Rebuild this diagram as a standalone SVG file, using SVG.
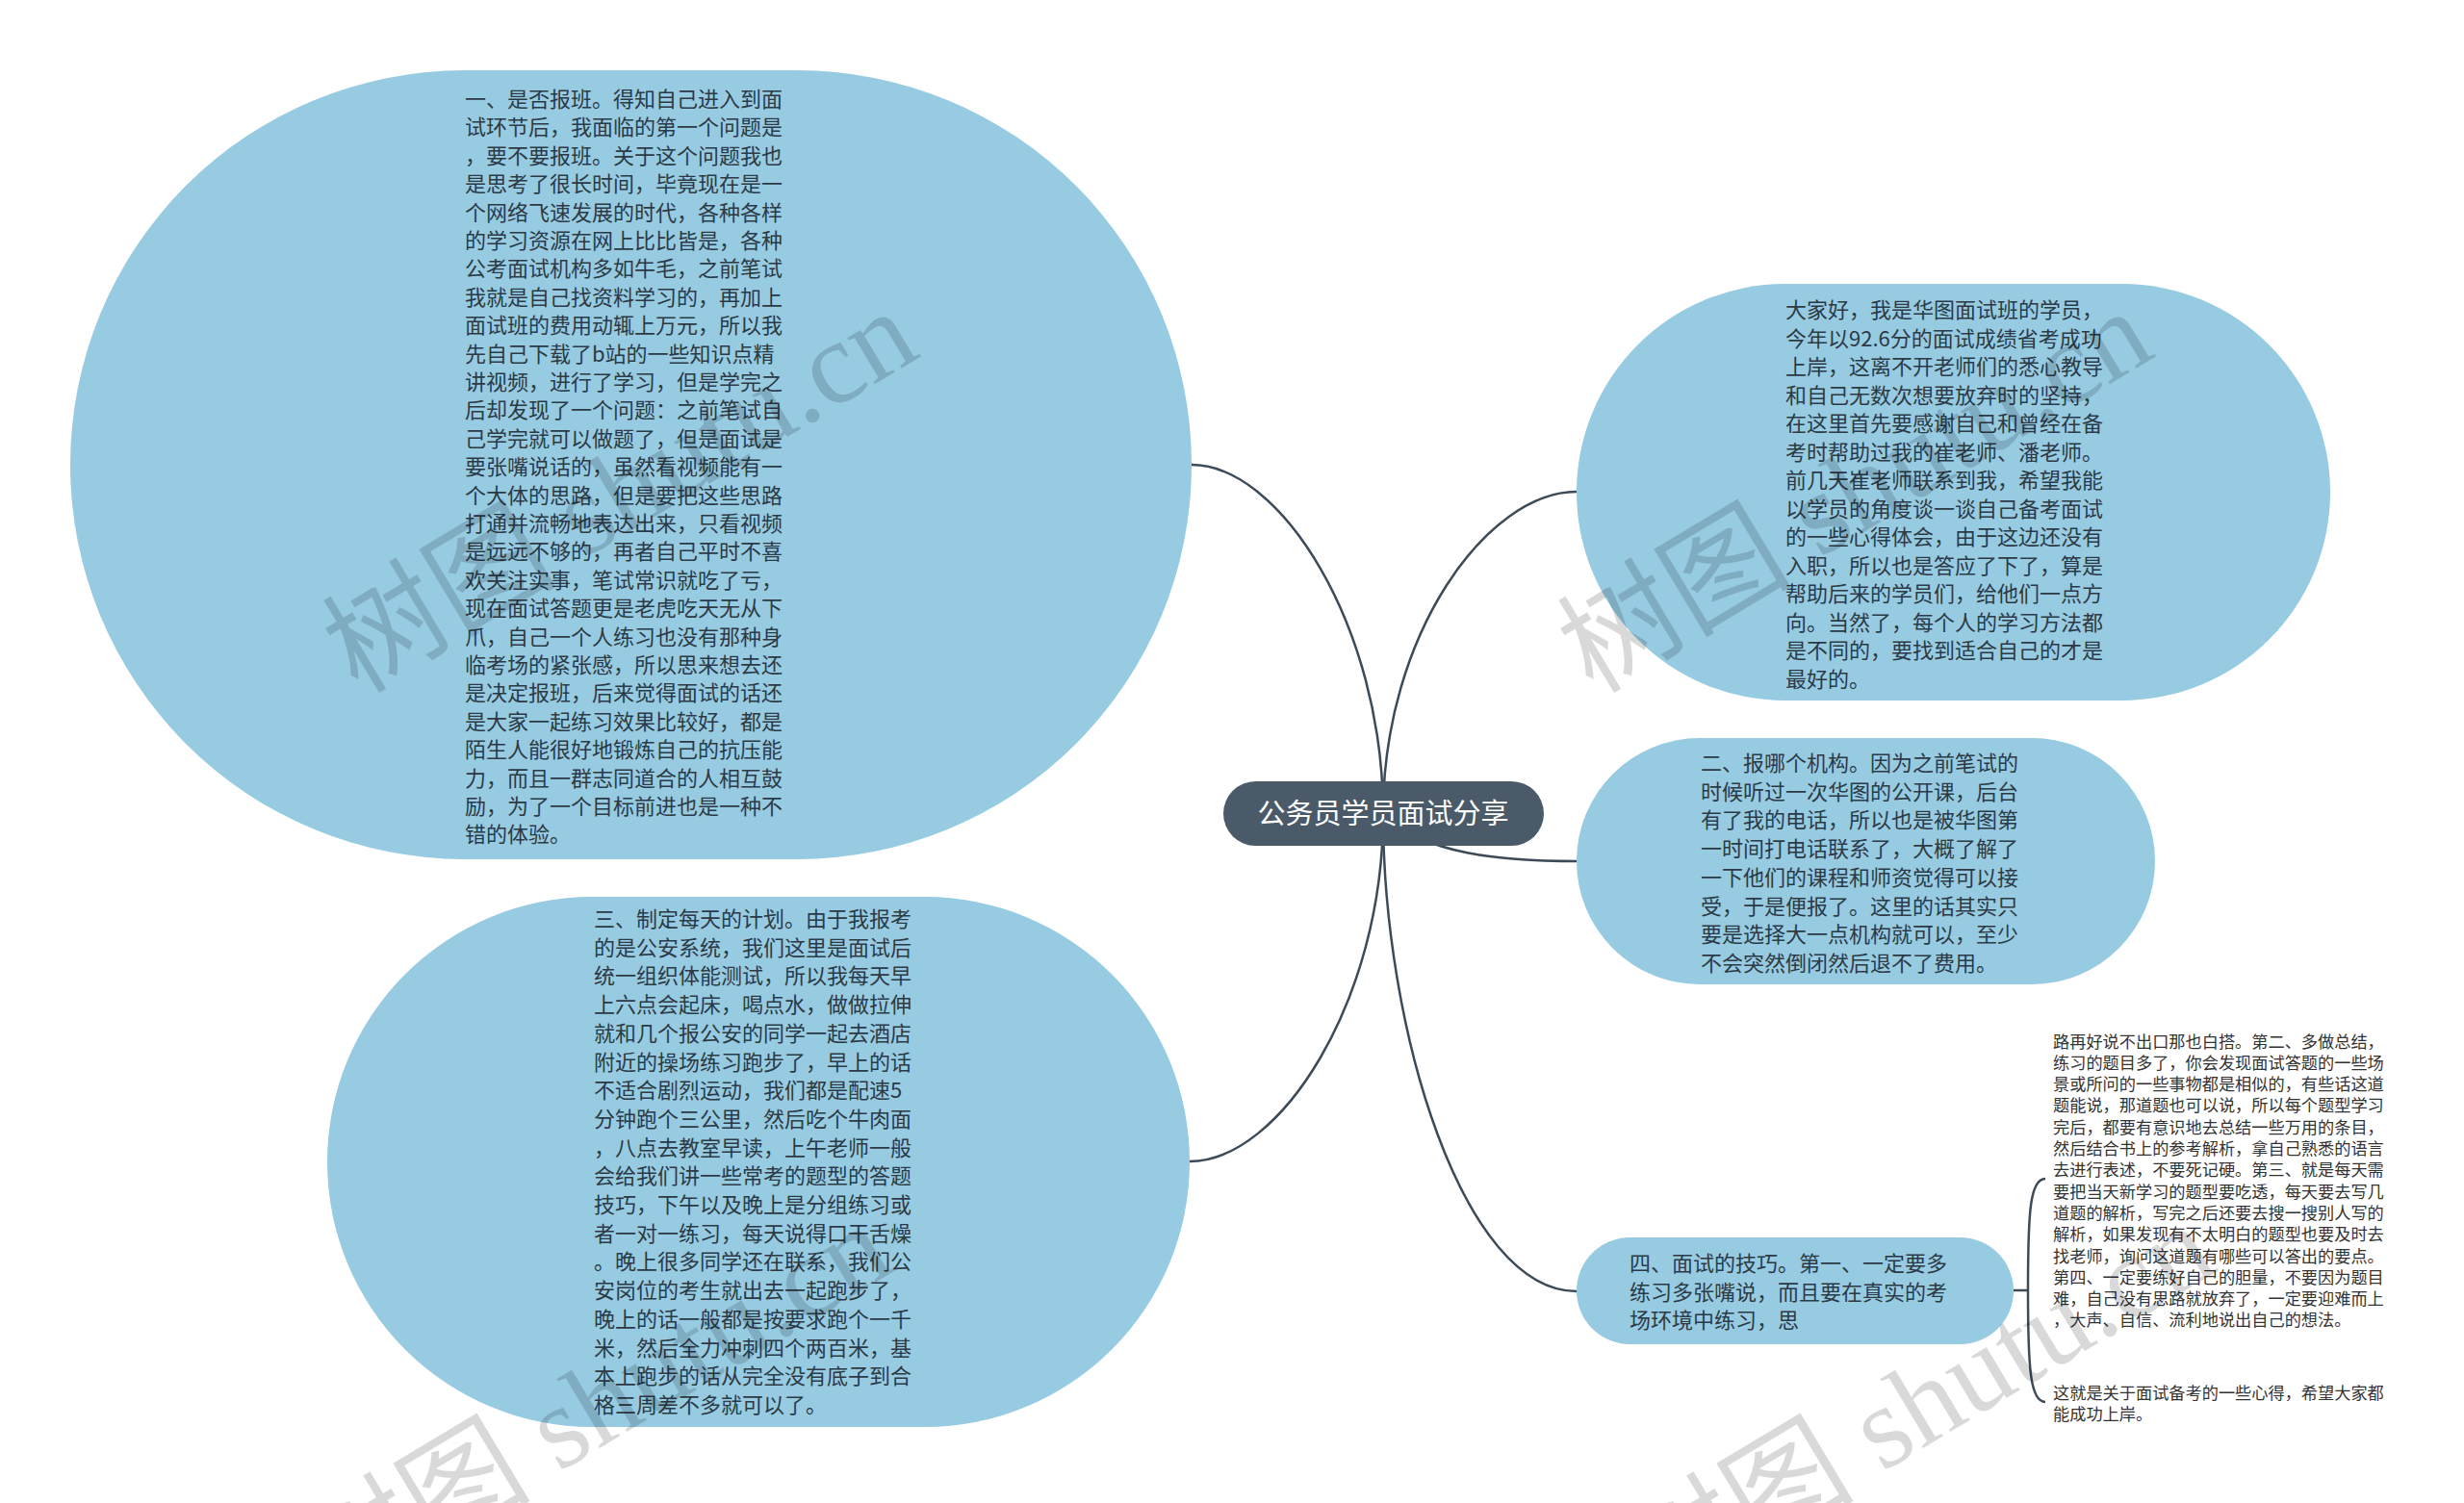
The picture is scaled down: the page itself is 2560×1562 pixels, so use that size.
<svg xmlns="http://www.w3.org/2000/svg" width="2560" height="1562" viewBox="0 0 2560 1562">
<style>
.node{fill:#96cbe2;}
.t{font-family:"Noto Sans CJK SC","Noto Sans",sans-serif;font-size:22px;fill:#2c3a46;}
.leaf{font-family:"Noto Sans CJK SC","Noto Sans",sans-serif;font-size:17.2px;fill:#333333;}
.root{fill:#4a5a69;}
.rt{font-family:"Noto Sans CJK SC","Noto Sans",sans-serif;font-size:29px;fill:#ffffff;}
.conn{fill:none;stroke:#3d4b58;stroke-width:2.5;}
.wm{font-family:"Liberation Serif","Noto Sans CJK SC",serif;font-size:122px;fill:#000;fill-opacity:0.15;}
</style>
<rect width="2560" height="1562" fill="#ffffff"/>
<g id="connectors">
<path class="conn" d="M1437 846 C1437 650 1330 483 1238 483"/>
<path class="conn" d="M1437 846 C1437 1040 1330 1207 1236 1207"/>
<path class="conn" d="M1437 846 C1437 660 1545 511 1638 511"/>
<path class="conn" d="M1437 846 C1480 888 1560 895 1638 895"/>
<path class="conn" d="M1437 846 C1437 1070 1520 1342 1638 1342"/>
<path class="conn" d="M2092 1341 L2107 1341"/>
<path class="conn" d="M2107 1341 C2107 1260 2109 1225 2125 1225"/>
<path class="conn" d="M2107 1341 C2107 1420 2109 1457 2125 1457"/>
</g>
<g id="node-1">
<rect class="node" x="73" y="73" width="1165" height="820" rx="410" ry="410"/>
<text class="t" x="483" y="111"><tspan x="483" dy="0">一、是否报班。得知自己进入到面</tspan><tspan x="483" dy="29.4">试环节后，我面临的第一个问题是</tspan><tspan x="483" dy="29.4">，要不要报班。关于这个问题我也</tspan><tspan x="483" dy="29.4">是思考了很长时间，毕竟现在是一</tspan><tspan x="483" dy="29.4">个网络飞速发展的时代，各种各样</tspan><tspan x="483" dy="29.4">的学习资源在网上比比皆是，各种</tspan><tspan x="483" dy="29.4">公考面试机构多如牛毛，之前笔试</tspan><tspan x="483" dy="29.4">我就是自己找资料学习的，再加上</tspan><tspan x="483" dy="29.4">面试班的费用动辄上万元，所以我</tspan><tspan x="483" dy="29.4">先自己下载了b站的一些知识点精</tspan><tspan x="483" dy="29.4">讲视频，进行了学习，但是学完之</tspan><tspan x="483" dy="29.4">后却发现了一个问题：之前笔试自</tspan><tspan x="483" dy="29.4">己学完就可以做题了，但是面试是</tspan><tspan x="483" dy="29.4">要张嘴说话的，虽然看视频能有一</tspan><tspan x="483" dy="29.4">个大体的思路，但是要把这些思路</tspan><tspan x="483" dy="29.4">打通并流畅地表达出来，只看视频</tspan><tspan x="483" dy="29.4">是远远不够的，再者自己平时不喜</tspan><tspan x="483" dy="29.4">欢关注实事，笔试常识就吃了亏，</tspan><tspan x="483" dy="29.4">现在面试答题更是老虎吃天无从下</tspan><tspan x="483" dy="29.4">爪，自己一个人练习也没有那种身</tspan><tspan x="483" dy="29.4">临考场的紧张感，所以思来想去还</tspan><tspan x="483" dy="29.4">是决定报班，后来觉得面试的话还</tspan><tspan x="483" dy="29.4">是大家一起练习效果比较好，都是</tspan><tspan x="483" dy="29.4">陌生人能很好地锻炼自己的抗压能</tspan><tspan x="483" dy="29.4">力，而且一群志同道合的人相互鼓</tspan><tspan x="483" dy="29.4">励，为了一个目标前进也是一种不</tspan><tspan x="483" dy="29.4">错的体验。</tspan></text>
</g>
<g id="node-2">
<rect class="node" x="1638" y="295" width="783" height="433" rx="216.5" ry="216.5"/>
<text class="t" x="1855" y="330"><tspan x="1855" dy="0">大家好，我是华图面试班的学员，</tspan><tspan x="1855" dy="29.5">今年以92.6分的面试成绩省考成功</tspan><tspan x="1855" dy="29.5">上岸，这离不开老师们的悉心教导</tspan><tspan x="1855" dy="29.5">和自己无数次想要放弃时的坚持，</tspan><tspan x="1855" dy="29.5">在这里首先要感谢自己和曾经在备</tspan><tspan x="1855" dy="29.5">考时帮助过我的崔老师、潘老师。</tspan><tspan x="1855" dy="29.5">前几天崔老师联系到我，希望我能</tspan><tspan x="1855" dy="29.5">以学员的角度谈一谈自己备考面试</tspan><tspan x="1855" dy="29.5">的一些心得体会，由于这边还没有</tspan><tspan x="1855" dy="29.5">入职，所以也是答应了下了，算是</tspan><tspan x="1855" dy="29.5">帮助后来的学员们，给他们一点方</tspan><tspan x="1855" dy="29.5">向。当然了，每个人的学习方法都</tspan><tspan x="1855" dy="29.5">是不同的，要找到适合自己的才是</tspan><tspan x="1855" dy="29.5">最好的。</tspan></text>
</g>
<g id="node-3">
<rect class="node" x="1638" y="767" width="601" height="256" rx="128" ry="128"/>
<text class="t" x="1767" y="801"><tspan x="1767" dy="0">二、报哪个机构。因为之前笔试的</tspan><tspan x="1767" dy="29.7">时候听过一次华图的公开课，后台</tspan><tspan x="1767" dy="29.7">有了我的电话，所以也是被华图第</tspan><tspan x="1767" dy="29.7">一时间打电话联系了，大概了解了</tspan><tspan x="1767" dy="29.7">一下他们的课程和师资觉得可以接</tspan><tspan x="1767" dy="29.7">受，于是便报了。这里的话其实只</tspan><tspan x="1767" dy="29.7">要是选择大一点机构就可以，至少</tspan><tspan x="1767" dy="29.7">不会突然倒闭然后退不了费用。</tspan></text>
</g>
<g id="node-4">
<rect class="node" x="340" y="932" width="896" height="551" rx="275.5" ry="275.5"/>
<text class="t" x="617" y="963"><tspan x="617" dy="0">三、制定每天的计划。由于我报考</tspan><tspan x="617" dy="29.7">的是公安系统，我们这里是面试后</tspan><tspan x="617" dy="29.7">统一组织体能测试，所以我每天早</tspan><tspan x="617" dy="29.7">上六点会起床，喝点水，做做拉伸</tspan><tspan x="617" dy="29.7">就和几个报公安的同学一起去酒店</tspan><tspan x="617" dy="29.7">附近的操场练习跑步了，早上的话</tspan><tspan x="617" dy="29.7">不适合剧烈运动，我们都是配速5</tspan><tspan x="617" dy="29.7">分钟跑个三公里，然后吃个牛肉面</tspan><tspan x="617" dy="29.7">，八点去教室早读，上午老师一般</tspan><tspan x="617" dy="29.7">会给我们讲一些常考的题型的答题</tspan><tspan x="617" dy="29.7">技巧，下午以及晚上是分组练习或</tspan><tspan x="617" dy="29.7">者一对一练习，每天说得口干舌燥</tspan><tspan x="617" dy="29.7">。晚上很多同学还在联系，我们公</tspan><tspan x="617" dy="29.7">安岗位的考生就出去一起跑步了，</tspan><tspan x="617" dy="29.7">晚上的话一般都是按要求跑个一千</tspan><tspan x="617" dy="29.7">米，然后全力冲刺四个两百米，基</tspan><tspan x="617" dy="29.7">本上跑步的话从完全没有底子到合</tspan><tspan x="617" dy="29.7">格三周差不多就可以了。</tspan></text>
</g>
<g id="node-5">
<rect class="node" x="1638" y="1286" width="454" height="111" rx="55.5" ry="55.5"/>
<text class="t" x="1693" y="1321"><tspan x="1693" dy="0">四、面试的技巧。第一、一定要多</tspan><tspan x="1693" dy="29.5">练习多张嘴说，而且要在真实的考</tspan><tspan x="1693" dy="29.5">场环境中练习，思</tspan></text>
</g>
<g id="leaf-1">
<text class="leaf" x="2133" y="1088.5"><tspan x="2133" dy="0">路再好说不出口那也白搭。第二、多做总结，</tspan><tspan x="2133" dy="22.3">练习的题目多了，你会发现面试答题的一些场</tspan><tspan x="2133" dy="22.3">景或所问的一些事物都是相似的，有些话这道</tspan><tspan x="2133" dy="22.3">题能说，那道题也可以说，所以每个题型学习</tspan><tspan x="2133" dy="22.3">完后，都要有意识地去总结一些万用的条目，</tspan><tspan x="2133" dy="22.3">然后结合书上的参考解析，拿自己熟悉的语言</tspan><tspan x="2133" dy="22.3">去进行表述，不要死记硬。第三、就是每天需</tspan><tspan x="2133" dy="22.3">要把当天新学习的题型要吃透，每天要去写几</tspan><tspan x="2133" dy="22.3">道题的解析，写完之后还要去搜一搜别人写的</tspan><tspan x="2133" dy="22.3">解析，如果发现有不太明白的题型也要及时去</tspan><tspan x="2133" dy="22.3">找老师，询问这道题有哪些可以答出的要点。</tspan><tspan x="2133" dy="22.3">第四、一定要练好自己的胆量，不要因为题目</tspan><tspan x="2133" dy="22.3">难，自己没有思路就放弃了，一定要迎难而上</tspan><tspan x="2133" dy="22.3">，大声、自信、流利地说出自己的想法。</tspan></text>
</g>
<g id="leaf-2">
<text class="leaf" x="2133" y="1453.5"><tspan x="2133" dy="0">这就是关于面试备考的一些心得，希望大家都</tspan><tspan x="2133" dy="22.3">能成功上岸。</tspan></text>
</g>
<g id="root">
<rect class="root" x="1271" y="812" width="333" height="67" rx="33.5" ry="33.5"/>
<text class="rt" x="1437" y="856" text-anchor="middle">公务员学员面试分享</text>
</g>
<g id="watermarks">
<text class="wm" transform="translate(372 722) rotate(-31)">树图 shutu.cn</text>
<text class="wm" transform="translate(1655 722) rotate(-31)">树图 shutu.cn</text>
<text class="wm" transform="translate(345 1672) rotate(-31)">树图 shutu.cn</text>
<text class="wm" transform="translate(1720 1672) rotate(-31)">树图 shutu.cn</text>
</g>
</svg>
